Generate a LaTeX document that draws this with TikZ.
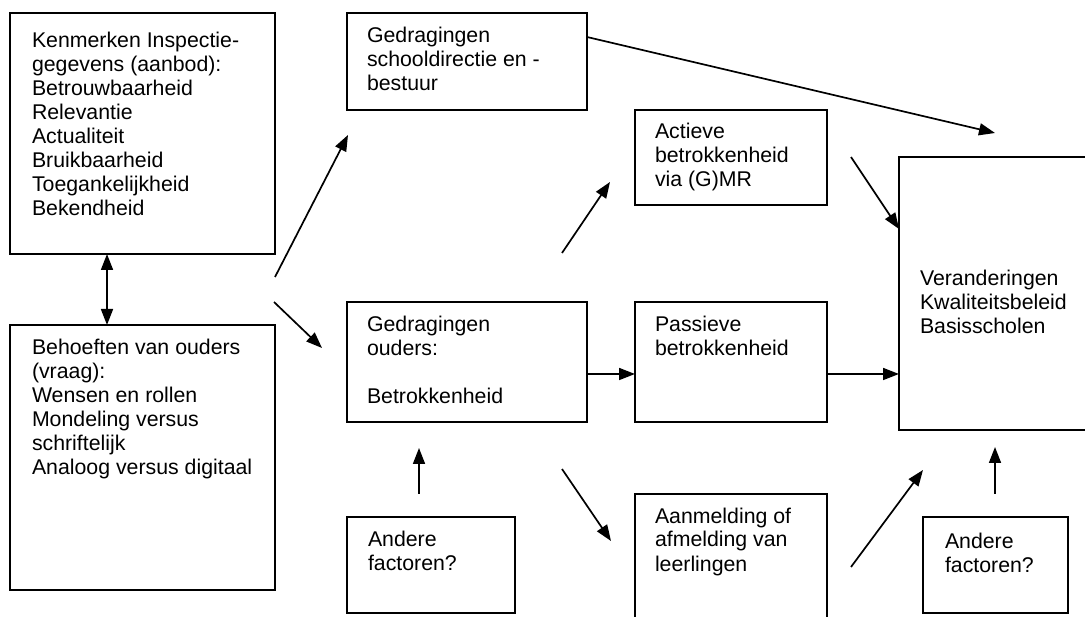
\documentclass[tikz,border=0pt]{standalone}
\usepackage{fontspec}
\setmainfont{Liberation Sans}
\usetikzlibrary{arrows.meta}
\tikzset{
  box/.style={draw, line width=1.7pt, inner sep=0pt, outer sep=0pt, anchor=north west},
  txt/.style={inner sep=0pt, outer sep=0pt, anchor=base west},
  conn/.style={line width=1.7pt, -{Triangle[length=16pt,width=12pt]}},
  dconn/.style={line width=1.7pt, {Triangle[length=16pt,width=12pt]}-{Triangle[length=16pt,width=12pt]}}
}
\newcommand{\bt}[2]{\parbox[t]{#1pt}{\raggedright\fontsize{21.3}{24}\selectfont #2}}
\begin{document}
\begin{tikzpicture}[x=1pt,y=-1pt]
\useasboundingbox (0,0) rectangle (1085,617);
\clip (0,0) rectangle (1085,617);
% boxes
\node[box, minimum width=265pt, minimum height=241pt] (A) at (10,13) {};
\node[box, minimum width=265pt, minimum height=265pt] (B) at (10,325) {};
\node[box, minimum width=240pt, minimum height=97pt] (C) at (347,13) {};
\node[box, minimum width=192pt, minimum height=95pt] (D) at (635,110) {};
\node[box, minimum width=240pt, minimum height=120pt] (E) at (347,302) {};
\node[box, minimum width=192pt, minimum height=120pt] (F) at (635,302) {};
\node[box, minimum width=168pt, minimum height=96pt] (G) at (347,517) {};
\node[box, minimum width=192pt, minimum height=150pt] (H) at (635,494) {};
\node[box, minimum width=145pt, minimum height=96pt] (I) at (923,517) {};
\node[box, minimum width=210pt, minimum height=273pt] (J) at (899,157) {};
% texts
\node[txt] (tA) at (32,48) {\bt{240}{Kenmerken Inspectie-\\gegevens (aanbod):\\Betrouwbaarheid\\Relevantie\\Actualiteit\\Bruikbaarheid\\Toegankelijkheid\\Bekendheid}};
\node[txt] (tB) at (32,355) {\bt{240}{Behoeften van ouders\\(vraag):\\Wensen en rollen\\Mondeling versus\\schriftelijk\\Analoog versus digitaal}};
\node[txt] (tC) at (367,43) {\bt{215}{Gedragingen\\schooldirectie en -\\bestuur}};
\node[txt] (tD) at (655,139) {\bt{170}{Actieve\\betrokkenheid\\via (G)MR}};
\node[txt] (tE) at (367,332) {\bt{215}{Gedragingen\\ouders:\\[24pt]Betrokkenheid}};
\node[txt] (tF) at (655,332) {\bt{170}{Passieve\\betrokkenheid}};
\node[txt] (tG) at (368,547) {\bt{140}{Andere\\factoren?}};
\node[txt] (tH) at (655,523) {\bt{170}{Aanmelding of\\afmelding van\\leerlingen}};
\node[txt] (tI) at (945,548) {\bt{120}{Andere\\factoren?}};
\node[txt] (tJ) at (920,286) {\bt{165}{Veranderingen\\Kwaliteitsbeleid\\Basisscholen}};
% connector end points
\coordinate (ab1) at (107,254);
\coordinate (ab2) at (107,325);
\coordinate (ac1) at (275,277);
\coordinate (ac2) at (348,135);
\coordinate (ae1) at (274,302);
\coordinate (ae2) at (322,348);
\coordinate (cj1) at (587,37);
\coordinate (cj2) at (995,133);
\coordinate (ed1) at (562,253);
\coordinate (ed2) at (610,182);
\coordinate (dj1) at (851,157);
\coordinate (dj2) at (899,229);
\coordinate (eh1) at (562,469);
\coordinate (eh2) at (611,541);
\coordinate (ge1) at (419,494);
\coordinate (ge2) at (419,448);
\coordinate (hj1) at (851,567);
\coordinate (hj2) at (923,470);
\coordinate (ij1) at (995,494);
\coordinate (ij2) at (995,447);
% connectors
\draw[dconn] (ab1) -- (ab2);
\draw[conn] (ac1) -- (ac2);
\draw[conn] (ae1) -- (ae2);
\draw[conn] (cj1) -- (cj2);
\draw[conn] (ed1) -- (ed2);
\draw[conn] (dj1) -- (dj2);
\draw[conn] (E.east |- 0,374) -- (F.west |- 0,374);
\draw[conn] (F.east |- 0,374) -- (J.west |- 0,374);
\draw[conn] (eh1) -- (eh2);
\draw[conn] (ge1) -- (ge2);
\draw[conn] (hj1) -- (hj2);
\draw[conn] (ij1) -- (ij2);
\end{tikzpicture}
\end{document}
